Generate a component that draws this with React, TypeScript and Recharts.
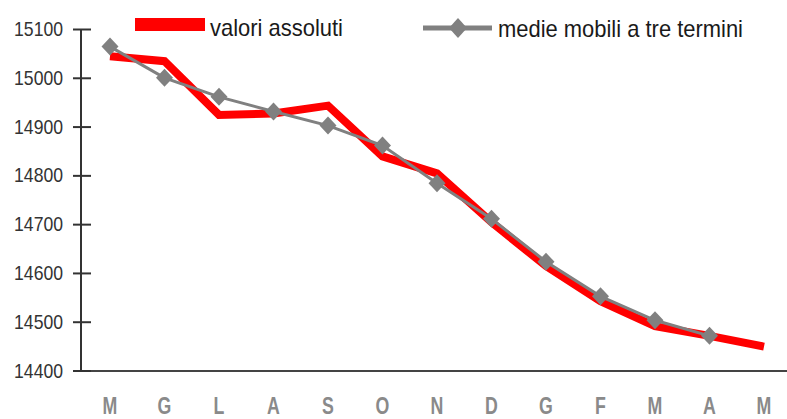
import React from 'react';
import { LineChart, Line, XAxis, YAxis, Legend } from 'recharts';

const months = ['M', 'G', 'L', 'A', 'S', 'O', 'N', 'D', 'G', 'F', 'M', 'A', 'M'];
const valoriAssoluti = [15045, 15035, 14925, 14928, 14944, 14840, 14805, 14705, 14615, 14543, 14492, 14472, 14450];
const medieMobili: (number | null)[] = [15065, 15001, 14962, 14932, 14903, 14862, 14785, 14712, 14624, 14553, 14504, 14472, null];
const yTicks = [14400, 14500, 14600, 14700, 14800, 14900, 15000, 15100];

const data = months.map((m, i) => ({
  idx: i,
  month: m,
  abs: valoriAssoluti[i],
  avg: medieMobili[i],
}));

const FONT = '"Liberation Sans", Arial, sans-serif';

const YTick = (props: any) => {
  const { x, y, payload } = props;
  return (
    <g>
      <line x1={x - 8} x2={x + 10} y1={y} y2={y} stroke="#333" strokeWidth={2} />
      <text
        transform={`translate(${x - 18},${y + 6.5}) scale(0.88,1)`}
        textAnchor="end"
        fontFamily={FONT}
        fontSize={20}
        fill="#333"
      >
        {payload.value}
      </text>
    </g>
  );
};

const XTick = (props: any) => {
  const { x, y, payload } = props;
  return (
    <text
      transform={`translate(${x},${y + 42.5}) scale(0.74,1)`}
      textAnchor="middle"
      fontFamily={FONT}
      fontSize={24}
      fontWeight="bold"
      fill="#8a8a8a"
    >
      {months[payload.value]}
    </text>
  );
};

const Diamond = (props: any) => {
  const { cx, cy, value } = props;
  if (value == null || cx == null || cy == null) return <g />;
  return (
    <polygon
      points={`${cx},${cy - 9} ${cx + 8.5},${cy} ${cx},${cy + 9} ${cx - 8.5},${cy}`}
      fill="#808080"
    />
  );
};

const LegendContent = () => (
  <svg width={787} height={45} style={{ display: 'block' }}>
    <rect x={135} y={18} width={70} height={13} fill="#ff0000" />
    <text
      x={210}
      y={36}
      fontFamily={FONT}
      fontSize={24}
      fill="#1a1a1a"
      textLength={133}
      lengthAdjust="spacingAndGlyphs"
    >
      valori assoluti
    </text>
    <line x1={423} x2={492} y1={28} y2={28} stroke="#808080" strokeWidth={5} />
    <polygon points="458,18 467,28 458,38 449,28" fill="#808080" />
    <text
      x={498}
      y={37}
      fontFamily={FONT}
      fontSize={24}
      fill="#1a1a1a"
      textLength={245}
      lengthAdjust="spacingAndGlyphs"
    >
      medie mobili a tre termini
    </text>
  </svg>
);

export default function App() {
  return (
    <div style={{ position: 'absolute', left: 0, top: 0, width: 787, height: 419, overflow: 'hidden', background: '#fff' }}>
      <LineChart
        width={787}
        height={419}
        data={data}
        margin={{ top: 29.5, right: 0, bottom: 0, left: 0 }}
      >
        <XAxis
          dataKey="idx"
          type="category"
          height={48}
          padding={{ left: 29, right: 23 }}
          axisLine={{ stroke: '#444', strokeWidth: 2 }}
          tickLine={false}
          tickSize={0}
          tickMargin={0}
          interval={0}
          tick={<XTick />}
        />
        <YAxis
          width={81}
          domain={[14400, 15100]}
          ticks={yTicks}
          type="number"
          allowDataOverflow
          axisLine={{ stroke: '#333', strokeWidth: 2 }}
          tickLine={false}
          tickSize={0}
          tickMargin={0}
          interval={0}
          tick={<YTick />}
        />
        <Legend
          layout="horizontal"
          verticalAlign="middle"
          align="center"
          wrapperStyle={{ top: 0, left: 0, width: 787, height: 45 }}
          content={<LegendContent />}
        />
        <Line
          type="linear"
          dataKey="abs"
          stroke="#ff0000"
          strokeWidth={8}
          dot={false}
          activeDot={false}
          isAnimationActive={false}
        />
        <Line
          type="linear"
          dataKey="avg"
          stroke="#808080"
          strokeWidth={3}
          dot={<Diamond />}
          activeDot={false}
          connectNulls={false}
          isAnimationActive={false}
        />
      </LineChart>
    </div>
  );
}
